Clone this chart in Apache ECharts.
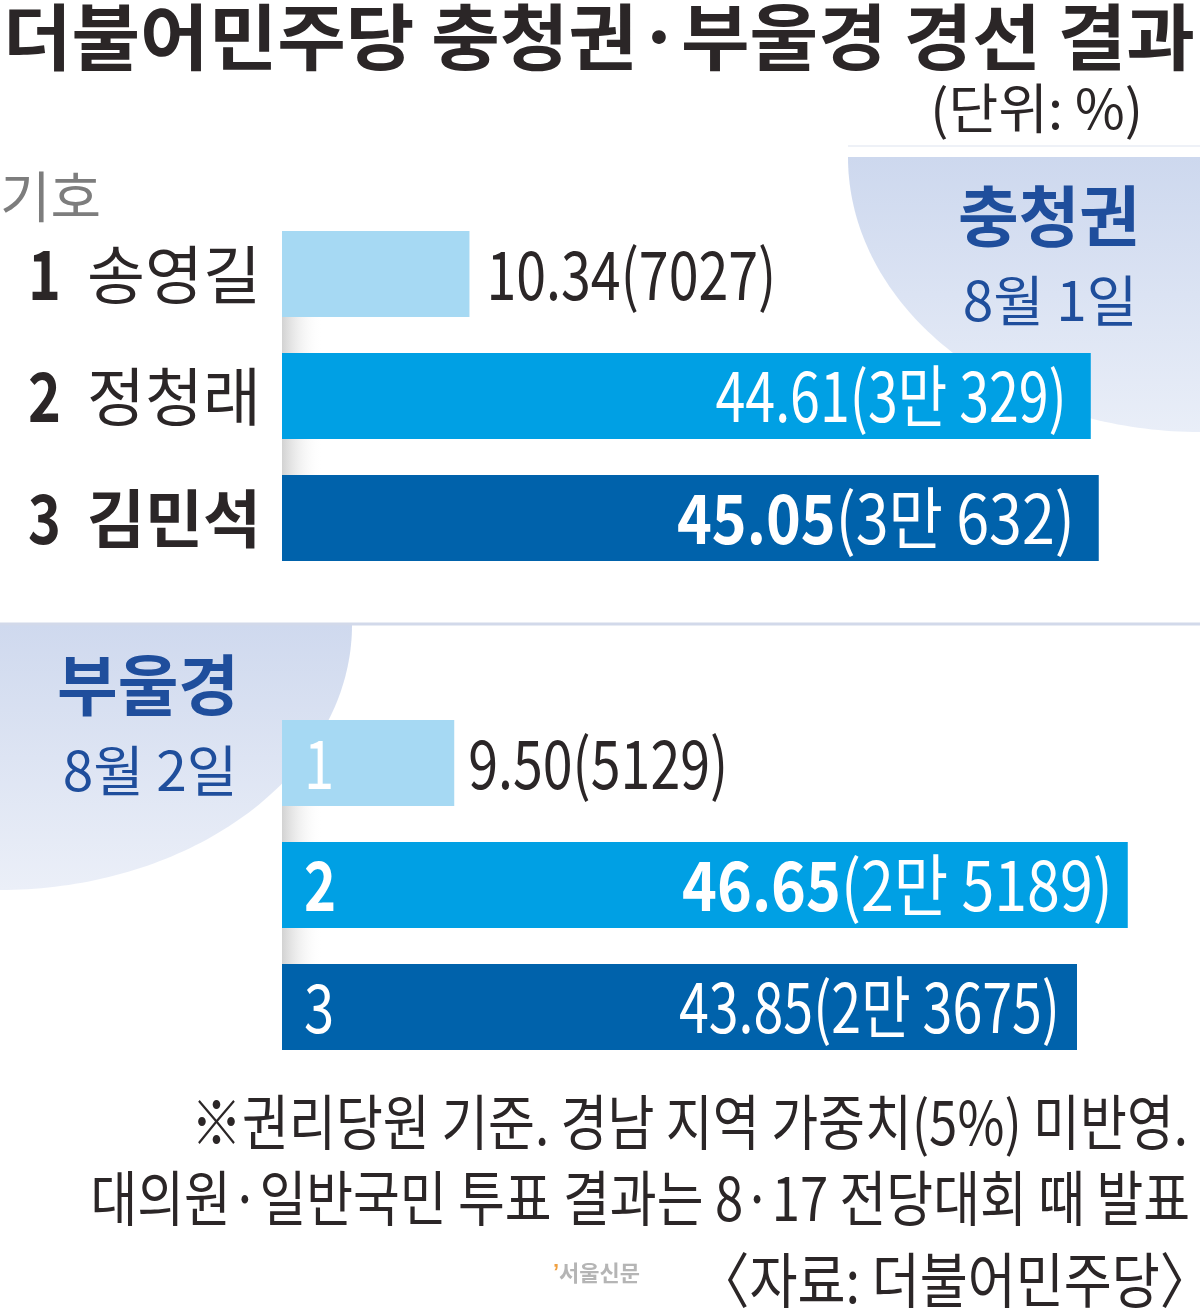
<!DOCTYPE html>
<html>
<head>
<meta charset="utf-8">
<script src="https://cdn.jsdelivr.net/npm/echarts@6/dist/echarts.min.js"></script>
<style>
html,body{margin:0;padding:0;background:#fff;}
#chart{width:1200px;height:1315px;}
</style>
</head>
<body>
<div id="chart"></div>
<script>
// ---- data ----
const titleText = '더불어민주당 충청권·부울경 경선 결과';
const unitText = '(단위: %)';
const candNums = ['1', '2', '3'];
const candNames = ['송영길', '정청래', '김민석'];
const regionNames = ['충청권', '부울경'];
const regionDates = ['8월 1일', '8월 2일'];
const chungPct = [10.34, 44.61, 45.05];
const chungVotes = ['7027', '3만 329', '3만 632'];
const buPct = [9.50, 46.65, 43.85];
const buVotes = ['5129', '2만 5189', '2만 3675'];
const footLines = [
  '※권리당원 기준. 경남 지역 가중치(5%) 미반영.',
  '대의원·일반국민 투표 결과는 8·17 전당대회 때 발표',
  '〈자료: 더불어민주당〉'
];

// ---- styles ----
const KR = "'Noto Sans CJK KR', sans-serif";
const DARK = '#2b2627';
const NAVY = '#1f4e9c';
const barColors = ['#a6d9f3', '#00a0e4', '#0062ab'];
const labelStyle = {
  top:    { out: 17, inside: [0, 24, 24] },
  bottom: { out: 14, inside: [0, 15, 17] }
};

function quad(cx, cy, rx, ry, a0, a1) {
  const pts = [[cx, cy]];
  for (let k = 0; k <= 80; k++) {
    const a = a0 + (a1 - a0) * k / 80;
    pts.push([cx + rx * Math.cos(a), cy + ry * Math.sin(a)]);
  }
  return pts;
}

function barData(pcts) {
  return pcts.map((v, i) => ({ value: v, itemStyle: { color: barColors[i] } }));
}

// custom label layer: positions come from the axes via api.coord
function labelRenderer(pcts, votes, cfg, isTop) {
  const maxV = Math.max.apply(null, pcts);
  return function (params, api) {
    const i = params.dataIndex;
    const end = api.coord([api.value(0), api.value(1)]);
    const start = api.coord([0, api.value(1)]);
    const win = pcts[i] === maxV;
    const outside = pcts[i] < 20;
    const val = pcts[i].toFixed(2);
    const col = outside ? DARK : '#fff';
    const children = [];
    children.push({
      type: 'text',
      x: outside ? end[0] + cfg.out : end[0] - cfg.inside[i],
      y: end[1],
      scaleX: win ? 0.87 : 0.79,
      style: {
        text: win ? '{b|' + val + '}{r|(' + votes[i] + ')}' : '{r|' + val + '(' + votes[i] + ')}',
        align: outside ? 'left' : 'right', verticalAlign: 'middle',
        rich: {
          b: { fontFamily: KR, fontWeight: 'bold', fontSize: 68, fill: col },
          r: { fontFamily: KR, fontSize: 68, fill: col }
        }
      }
    });
    if (isTop) {
      children.push({
        type: 'text', x: start[0] - 21, y: start[1],
        style: { text: candNames[i], fontFamily: KR, fontSize: 63, fontWeight: win ? 'bold' : 'normal',
          fill: DARK, align: 'right', verticalAlign: 'middle' }
      });
      children.push({
        type: 'text', x: start[0] - 221, y: start[1], scaleX: 0.82,
        style: { text: candNums[i], fontFamily: KR, fontSize: 68, fontWeight: 'bold',
          fill: DARK, align: 'right', verticalAlign: 'middle' }
      });
    } else {
      children.push({
        type: 'text', x: start[0] + 22, y: start[1], scaleX: 0.8,
        style: { text: candNums[i], fontFamily: KR, fontSize: 68, fontWeight: win ? 'bold' : 'normal',
          fill: '#fff', align: 'left', verticalAlign: 'middle' }
      });
    }
    return { type: 'group', children: children };
  };
}

const chart = echarts.init(document.getElementById('chart'), null, { renderer: 'canvas' });

const gapStrips = [];
[[317, 353], [439, 475], [806, 842], [928, 964]].forEach(g => {
  gapStrips.push({
    type: 'rect', z: 1,
    shape: { x: 282, y: g[0], width: 40, height: g[1] - g[0] },
    style: { fill: new echarts.graphic.LinearGradient(0, 0, 1, 0, [
      { offset: 0, color: '#d2d2d2' }, { offset: 1, color: 'rgba(255,255,255,0)' }]) }
  });
});

const yAxisBase = {
  type: 'category', inverse: true,
  axisLine: { show: false }, axisTick: { show: false }, splitLine: { show: false }, axisLabel: { show: false }
};

const option = {
  backgroundColor: '#fff',
  animation: false,
  grid: [
    { left: 282, top: 213, width: 906.5, height: 366 },
    { left: 282, top: 702, width: 906.5, height: 366 }
  ],
  xAxis: [
    { gridIndex: 0, type: 'value', min: 0, max: 50, show: false },
    { gridIndex: 1, type: 'value', min: 0, max: 50, show: false }
  ],
  yAxis: [
    Object.assign({ gridIndex: 0, data: candNames }, yAxisBase),
    Object.assign({ gridIndex: 1, data: candNums }, yAxisBase)
  ],
  series: [
    { type: 'bar', xAxisIndex: 0, yAxisIndex: 0, barWidth: 86, z: 2, data: barData(chungPct) },
    { type: 'bar', xAxisIndex: 1, yAxisIndex: 1, barWidth: 86, z: 2, data: barData(buPct) },
    { type: 'custom', xAxisIndex: 0, yAxisIndex: 0, z: 5, clip: false,
      encode: { x: 0, y: 1 },
      data: chungPct.map((v, i) => [v, i]),
      renderItem: labelRenderer(chungPct, chungVotes, labelStyle.top, true) },
    { type: 'custom', xAxisIndex: 1, yAxisIndex: 1, z: 5, clip: false,
      encode: { x: 0, y: 1 },
      data: buPct.map((v, i) => [v, i]),
      renderItem: labelRenderer(buPct, buVotes, labelStyle.bottom, false) }
  ],
  graphic: [
    // decorative backgrounds
    { type: 'polygon', z: 0, shape: { points: quad(1200, 157, 352, 275, Math.PI, Math.PI / 2) },
      style: { fill: new echarts.graphic.LinearGradient(0, 0, 0, 1, [
        { offset: 0, color: '#cdd8ee' }, { offset: 1, color: '#e9eef8' }]) } },
    { type: 'polygon', z: 0, shape: { points: quad(0, 625, 352, 265, 0, Math.PI / 2) },
      style: { fill: new echarts.graphic.LinearGradient(0, 0, 0, 1, [
        { offset: 0, color: '#cfd9ee' }, { offset: 1, color: '#ebeff8' }]) } },
    { type: 'line', z: 0, shape: { x1: 0, y1: 624, x2: 1200, y2: 624 }, style: { stroke: '#d2d9ea', lineWidth: 3 } },
    { type: 'line', z: 0, shape: { x1: 848, y1: 146, x2: 1200, y2: 146 }, style: { stroke: '#eef1f7', lineWidth: 2 } },
    ...gapStrips,
    // title
    { type: 'text', z: 100, x: 3, y: 37, scaleX: 1.035,
      style: { text: titleText, fontFamily: KR, fontWeight: 'bold', fontSize: 72, fill: DARK, align: 'left', verticalAlign: 'middle' } },
    { type: 'text', z: 100, x: 1143, y: 108,
      style: { text: unitText, fontFamily: KR, fontSize: 54, fill: DARK, align: 'right', verticalAlign: 'middle' } },
    { type: 'text', z: 100, x: 0, y: 196,
      style: { text: '기호', fontFamily: KR, fontSize: 55, fill: '#7d7d7d', align: 'left', verticalAlign: 'middle' } },
    // region labels
    { type: 'text', z: 100, x: 1049, y: 216,
      style: { text: regionNames[0], fontFamily: KR, fontWeight: 'bold', fontSize: 66, fill: NAVY, align: 'center', verticalAlign: 'middle' } },
    { type: 'text', z: 100, x: 1050, y: 300,
      style: { text: regionDates[0], fontFamily: KR, fontSize: 55, fill: NAVY, align: 'center', verticalAlign: 'middle' } },
    { type: 'text', z: 100, x: 148, y: 685,
      style: { text: regionNames[1], fontFamily: KR, fontWeight: 'bold', fontSize: 66, fill: NAVY, align: 'center', verticalAlign: 'middle' } },
    { type: 'text', z: 100, x: 150, y: 770,
      style: { text: regionDates[1], fontFamily: KR, fontSize: 55, fill: NAVY, align: 'center', verticalAlign: 'middle' } },
    // footer
    { type: 'text', z: 100, x: 1188, y: 1122, scaleX: 0.85,
      style: { text: footLines[0], fontFamily: KR, fontSize: 60, fill: DARK, align: 'right', verticalAlign: 'middle' } },
    { type: 'text', z: 100, x: 1190, y: 1198, scaleX: 0.848,
      style: { text: footLines[1], fontFamily: KR, fontSize: 60, fill: DARK, align: 'right', verticalAlign: 'middle' } },
    { type: 'text', z: 100, x: 1212, y: 1280, scaleX: 0.87,
      style: { text: footLines[2], fontFamily: KR, fontSize: 60, fill: DARK, align: 'right', verticalAlign: 'middle' } },
    { type: 'text', z: 100, x: 553, y: 1273,
      style: { text: '{o|’}{g|서울신문}', fontFamily: KR, align: 'left', verticalAlign: 'middle',
        rich: { o: { fill: '#f0a040', fontSize: 22, fontWeight: 'bold' }, g: { fill: '#b5b5b5', fontSize: 22, fontWeight: 'bold', fontFamily: KR } } } }
  ]
};

chart.setOption(option);
</script>
</body>
</html>
